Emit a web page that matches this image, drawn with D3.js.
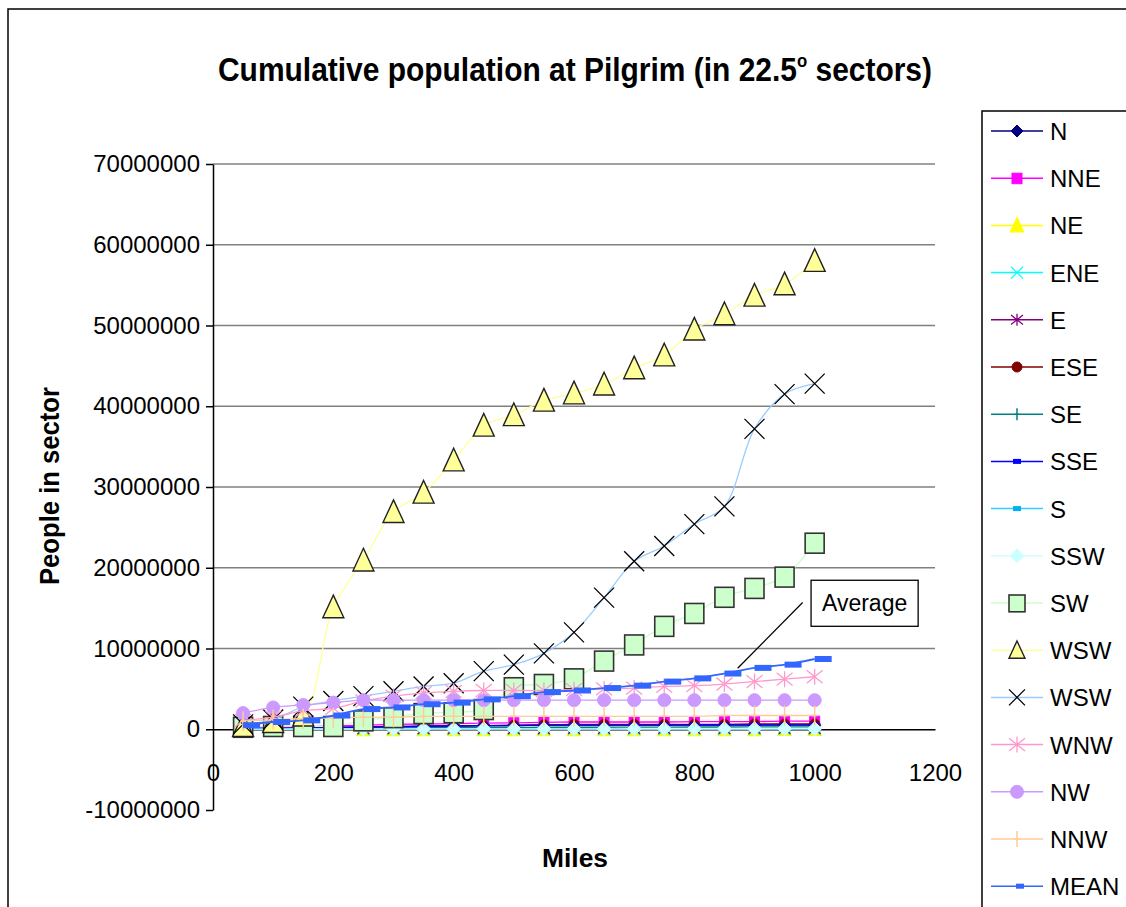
<!DOCTYPE html>
<html><head><meta charset="utf-8">
<script src="https://cdn.jsdelivr.net/npm/d3@7"></script>
<style>body{margin:0;background:#fff}svg{display:block}</style>
</head><body>
<svg id="c" width="1126" height="907"></svg>
<script>
// ---------------- DATA ----------------
const miles = [50,100,150,200,250,300,350,400,450,500,550,600,650,700,750,800,850,900,950,1000];
const seriesNames = ["N","NNE","NE","ENE","E","ESE","SE","SSE","S","SSW","SW","WSW","WSW","WNW","NW","NNW","MEAN"];
// values in people
const N    = [0.10,0.15,0.20,0.25,0.30,0.35,0.40,0.40,0.45,0.45,0.50,0.50,0.50,0.50,0.50,0.50,0.50,0.50,0.50,0.50].map(v=>v*1e6);
const NNE  = [0.10,0.20,0.30,0.40,0.50,0.60,0.65,0.70,0.75,0.80,0.85,0.90,0.90,0.90,0.90,0.95,0.95,0.95,1.00,1.00].map(v=>v*1e6);
const NE   = [0.01,0.01,0.02,0.02,0.02,0.02,0.03,0.03,0.03,0.03,0.03,0.03,0.04,0.04,0.04,0.04,0.04,0.04,0.05,0.05].map(v=>v*1e6);
const ENE  = [0.01,0.01,0.01,0.02,0.02,0.02,0.02,0.02,0.03,0.03,0.03,0.03,0.03,0.03,0.03,0.04,0.04,0.04,0.04,0.04].map(v=>v*1e6);
const E    = [0.01,0.01,0.01,0.01,0.02,0.02,0.02,0.02,0.02,0.02,0.02,0.03,0.03,0.03,0.03,0.03,0.03,0.03,0.03,0.03].map(v=>v*1e6);
const ESE  = [0.05,0.10,0.15,0.20,0.25,0.30,0.35,0.40,0.45,0.50,0.55,0.60,0.60,0.60,0.60,0.60,0.60,0.65,0.65,0.65].map(v=>v*1e6);
const SE   = [0.05,0.08,0.10,0.12,0.15,0.18,0.20,0.20,0.22,0.22,0.25,0.25,0.25,0.27,0.27,0.28,0.28,0.30,0.30,0.30].map(v=>v*1e6);
const SSE  = [0.05,0.10,0.15,0.20,0.25,0.30,0.35,0.40,0.45,0.45,0.50,0.50,0.50,0.52,0.52,0.53,0.53,0.55,0.55,0.55].map(v=>v*1e6);
const S    = [0.01,0.01,0.01,0.01,0.02,0.02,0.02,0.02,0.02,0.02,0.02,0.02,0.03,0.03,0.03,0.03,0.03,0.03,0.03,0.03].map(v=>v*1e6);
const SSW  = [0.02,0.02,0.03,0.03,0.03,0.04,0.04,0.04,0.05,0.05,0.05,0.05,0.05,0.06,0.06,0.06,0.06,0.06,0.07,0.07].map(v=>v*1e6);
const SW   = [0.3,0.4,0.4,0.4,1.1,1.5,2.0,2.1,2.5,5.2,5.6,6.3,8.5,10.5,12.8,14.4,16.4,17.5,18.9,23.1].map(v=>v*1e6);
const WSW1 = [0.4,0.9,1.7,15.1,20.9,26.9,29.3,33.3,37.6,38.9,40.7,41.6,42.7,44.7,46.3,49.5,51.4,53.7,55.1,58.0].map(v=>v*1e6);
const WSW2 = [0.6,1.2,2.8,3.5,4.1,4.7,5.3,5.7,7.2,8.0,9.4,12.0,16.3,20.8,22.7,25.4,27.6,37.2,41.5,42.8].map(v=>v*1e6);
const WNW  = [1.1,1.5,2.3,2.6,3.5,4.1,4.5,4.7,4.8,4.8,4.8,4.9,5.0,5.1,5.3,5.4,5.6,5.9,6.2,6.5].map(v=>v*1e6);
const NW   = [2.0,2.7,3.0,3.3,3.6,3.6,3.6,3.6,3.6,3.6,3.6,3.6,3.6,3.6,3.6,3.6,3.6,3.6,3.6,3.6].map(v=>v*1e6);
const NNW  = [1.0,1.2,1.3,1.4,1.5,1.5,1.6,1.6,1.6,1.6,1.6,1.6,1.6,1.6,1.6,1.6,1.7,1.7,1.7,1.7].map(v=>v*1e6);
const MEAN = [0.5,0.9,1.1,1.7,2.5,2.7,3.1,3.3,3.7,4.1,4.6,4.8,5.1,5.4,5.9,6.3,6.9,7.6,8.0,8.7].map(v=>v*1e6);
const seriesValues = [N,NNE,NE,ENE,E,ESE,SE,SSE,S,SSW,SW,WSW1,WSW2,WNW,NW,NNW,MEAN];

const yTicks = [-10000000,0,10000000,20000000,30000000,40000000,50000000,60000000,70000000];
const xTicks = [0,200,400,600,800,1000,1200];
const titleMain = "Cumulative population at Pilgrim (in 22.5";
const titleSup = "o";
const titleEnd = " sectors)";
const xTitle = "Miles", yTitle = "People in sector";
const noteText = "Average";
// annotation anchor points in data units [miles, people]
const notePointer = [[872, 7.55e6],[980, 15.7e6]];
const noteBox = [[994, 18.45e6],[1172, 12.75e6]];

// ---------------- STYLES ----------------
const styles = [
  {line:"#000080", mk:"diamond", size:12, fill:"#000080", stroke:"#000080"},
  {line:"#FF00FF", mk:"square",  size:10, fill:"#FF00FF", stroke:"#FF00FF"},
  {line:"#FFFF00", mk:"triangle",size:13, fill:"#FFFF00", stroke:"#FFFF00"},
  {line:"#00FFFF", mk:"x",       size:12, fill:"none",    stroke:"#00FFFF"},
  {line:"#800080", mk:"star",    size:12, fill:"none",    stroke:"#800080"},
  {line:"#800000", mk:"circle",  size:10, fill:"#800000", stroke:"#800000"},
  {line:"#008080", mk:"plus",    size:12, fill:"none",    stroke:"#008080"},
  {line:"#0000FF", mk:"dash",    size:8,  fill:"#0000FF", stroke:"none"},
  {line:"#33CCFF", mk:"dash",    size:12, fill:"#00B0F0", stroke:"none"},
  {line:"#CCFFFF", mk:"diamond", size:14, fill:"#CCFFFF", stroke:"#CCFFFF"},
  {line:"#CCFFCC", mk:"square",  size:19, fill:"#CCFFCC", stroke:"#333333"},
  {line:"#FFFF99", mk:"triangle",size:21, fill:"#FFFF99", stroke:"#222222"},
  {line:"#99CCFF", mk:"x",       size:20, fill:"none",    stroke:"#000000"},
  {line:"#FF99CC", mk:"star",    size:16, fill:"none",    stroke:"#FF99CC"},
  {line:"#CC99FF", mk:"circle",  size:13, fill:"#CC99FF", stroke:"#CC99FF"},
  {line:"#FFCC99", mk:"plus",    size:20, fill:"none",    stroke:"#FFCC99"},
  {line:"#3366FF", mk:"meandash",size:17, fill:"#3366FF", stroke:"none"}
];

const svg = d3.select("#c");
const FONT = "'Liberation Sans', Arial, sans-serif";
const NARROW = "'Liberation Sans Narrow', 'Liberation Sans', Arial, sans-serif";

// outer frame
svg.append("rect").attr("x",8).attr("y",9).attr("width",1200).attr("height",1000)
  .attr("fill","none").attr("stroke","#000").attr("stroke-width",1.5);

const x = d3.scaleLinear().domain([0,1200]).range([213,935]);
const y = d3.scaleLinear().domain([-10000000,70000000]).range([810,164]);

// gridlines
svg.append("g").selectAll("line").data(yTicks.filter(d=>d>0)).join("line")
  .attr("x1",x(0)).attr("x2",x(1200)).attr("y1",d=>y(d)).attr("y2",d=>y(d))
  .attr("stroke","#808080").attr("stroke-width",1.5);

// y axis
const ya = svg.append("g").attr("transform",`translate(${x(0)},0)`)
  .call(d3.axisLeft(y).tickValues(yTicks).tickSize(7).tickSizeOuter(0).tickPadding(6).tickFormat(d=>String(d)));
ya.select(".domain").attr("stroke","#000").attr("stroke-width",1.5);
ya.selectAll(".tick line").attr("stroke","#000").attr("stroke-width",1.5);
ya.selectAll("text").attr("font-family",FONT).attr("font-size",24).attr("fill","#000");

// x axis at zero
const xa = svg.append("g").attr("transform",`translate(0,${y(0)})`)
  .call(d3.axisBottom(x).tickValues(xTicks).tickSize(0).tickSizeOuter(0).tickPadding(35).tickFormat(d=>String(d)));
xa.select(".domain").attr("stroke","#000").attr("stroke-width",1.5);
xa.selectAll("text").attr("font-family",FONT).attr("font-size",24).attr("fill","#000");

// markers
function marker(g, st, cx, cy, s) {
  const h = s/2;
  switch(st.mk){
    case "diamond":
      g.append("path").attr("d",`M${cx},${cy-h}L${cx+h},${cy}L${cx},${cy+h}L${cx-h},${cy}Z`).attr("fill",st.fill).attr("stroke",st.stroke); break;
    case "square":
      g.append("rect").attr("x",cx-h).attr("y",cy-h).attr("width",s).attr("height",s*1.05).attr("fill",st.fill).attr("stroke",st.stroke).attr("stroke-width",st.stroke==="#333333"?1.6:1); break;
    case "triangle":
      g.append("path").attr("d",`M${cx},${cy-s*0.58}L${cx+h*1.0},${cy+s*0.5}L${cx-h*1.0},${cy+s*0.5}Z`).attr("fill",st.fill).attr("stroke",st.stroke).attr("stroke-width",1.4); break;
    case "x":
      g.append("path").attr("d",`M${cx-h},${cy-h}L${cx+h},${cy+h}M${cx+h},${cy-h}L${cx-h},${cy+h}`).attr("stroke",st.stroke).attr("stroke-width",1.3).attr("fill","none"); break;
    case "star":
      g.append("path").attr("d",`M${cx-h},${cy-h*0.8}L${cx+h},${cy+h*0.8}M${cx+h},${cy-h*0.8}L${cx-h},${cy+h*0.8}M${cx},${cy-h}L${cx},${cy+h}`).attr("stroke",st.stroke).attr("stroke-width",1.3).attr("fill","none"); break;
    case "circle":
      g.append("circle").attr("cx",cx).attr("cy",cy).attr("r",h).attr("fill",st.fill).attr("stroke",st.stroke); break;
    case "plus":
      g.append("path").attr("d",`M${cx},${cy-h}L${cx},${cy+h}M${cx-h*0.3},${cy}L${cx+h*0.3},${cy}`).attr("stroke",st.stroke).attr("stroke-width",1.5).attr("fill","none"); break;
    case "dash":
      g.append("rect").attr("x",cx-h).attr("y",cy-2.5).attr("width",s).attr("height",5).attr("fill",st.fill); break;
    case "meandash":
      g.append("rect").attr("x",cx).attr("y",cy-3).attr("width",s).attr("height",6).attr("fill",st.fill); break;
  }
}

const line = d3.line().x(d=>x(d[0])).y(d=>y(d[1])).curve(d3.curveCatmullRom.alpha(0.5));
const plot = svg.append("g");
seriesValues.forEach((vals,i)=>{
  const st = styles[i];
  const pts = miles.map((m,j)=>[m, vals[j]]);
  const g = plot.append("g");
  g.append("path").attr("d",line(pts)).attr("fill","none").attr("stroke",st.line)
    .attr("stroke-width", i===16?1.8:1.3);
  pts.forEach(p=>marker(g, st, x(p[0]), y(p[1]), st.size));
});

// Average annotation
svg.append("line").attr("x1",x(notePointer[0][0])).attr("y1",y(notePointer[0][1]))
  .attr("x2",x(notePointer[1][0])).attr("y2",y(notePointer[1][1])).attr("stroke","#000").attr("stroke-width",1.2);
svg.append("rect").attr("x",x(noteBox[0][0])).attr("y",y(noteBox[0][1]))
  .attr("width",x(noteBox[1][0])-x(noteBox[0][0])).attr("height",y(noteBox[1][1])-y(noteBox[0][1]))
  .attr("fill","#fff").attr("stroke","#000").attr("stroke-width",1.3);
svg.append("text").attr("x",(x(noteBox[0][0])+x(noteBox[1][0]))/2).attr("y",(y(noteBox[0][1])+y(noteBox[1][1]))/2+8)
  .attr("text-anchor","middle").attr("font-family",FONT).attr("font-size",23).text(noteText);

// title (condensed bold)
const t = svg.append("text").attr("x",218).attr("y",81)
  .attr("font-family",NARROW).attr("font-weight","bold").attr("font-size",34)
  .attr("textLength",714).attr("lengthAdjust","spacingAndGlyphs");
t.append("tspan").text(titleMain);
t.append("tspan").attr("dy",-14).attr("font-size",19).text(titleSup);
t.append("tspan").attr("dy",14).text(titleEnd);

// axis titles
svg.append("text").attr("x",575).attr("y",867).attr("text-anchor","middle")
  .attr("font-family",NARROW).attr("font-weight","bold").attr("font-size",26)
  .attr("textLength",66).attr("lengthAdjust","spacingAndGlyphs").text(xTitle);
svg.append("text").attr("transform","translate(59,486) rotate(-90)").attr("text-anchor","middle")
  .attr("font-family",NARROW).attr("font-weight","bold").attr("font-size",27)
  .attr("textLength",198).attr("lengthAdjust","spacingAndGlyphs").text(yTitle);

// legend
svg.append("rect").attr("x",982).attr("y",111).attr("width",300).attr("height",900)
  .attr("fill","#fff").attr("stroke","#000").attr("stroke-width",1.5);
seriesNames.forEach((nm,i)=>{
  const st = styles[i];
  const ly = 131 + i*47.2;
  const g = svg.append("g");
  g.append("line").attr("x1",991).attr("x2",1043).attr("y1",ly).attr("y2",ly).attr("stroke",st.line).attr("stroke-width",1.5);
  const s = Math.min(st.size, 16);
  if (st.mk==="meandash") marker(g, {...st, mk:"dash"}, 1020, ly, 8);
  else marker(g, st, 1017, ly, st.mk==="dash"?8:s);
  g.append("text").attr("x",1050).attr("y",ly+9).attr("font-family",FONT).attr("font-size",24).text(nm);
});
</script>
</body></html>
